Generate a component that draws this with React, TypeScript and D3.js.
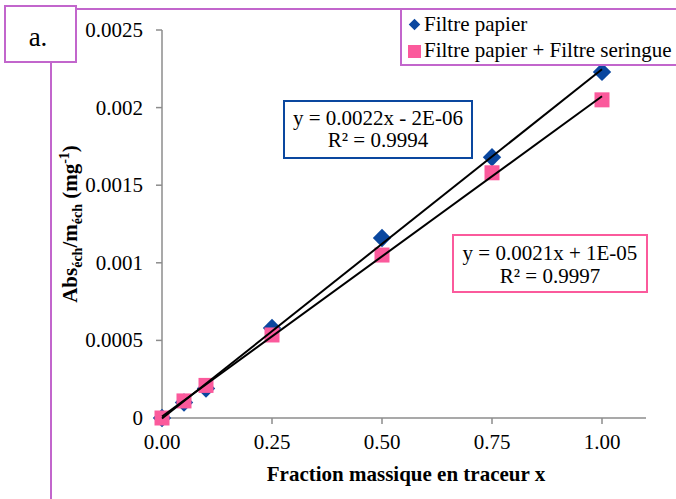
import React from "react";
import * as d3 from "d3";

const xValues = [0, 0.05, 0.1, 0.25, 0.5, 0.75, 1.0];
const papier = [0, 0.0001, 0.00019, 0.00058, 0.00116, 0.00168, 0.00223];
const papierSeringue = [0, 0.00011, 0.00021, 0.000535, 0.00105, 0.00158, 0.00205];
const xTicks = [0, 0.25, 0.5, 0.75, 1.0];
const yTicks = [0, 0.0005, 0.001, 0.0015, 0.002, 0.0025];
const yTickLabels = ["0", "0.0005", "0.001", "0.0015", "0.002", "0.0025"];
const seriesNames = ["Filtre papier", "Filtre papier + Filtre seringue"];
const eqBlue = ["y = 0.0022x - 2E-06", "R² = 0.9994"];
const eqPink = ["y = 0.0021x + 1E-05", "R² = 0.9997"];

const BLUE = "#0a479f";
const PINK = "#fb5a9c";
const PURPLE = "#c266cc";
const AXIS = "#8c8c8c";
const FONT = '"Liberation Serif", "Times New Roman", serif';

function linreg(xs: number[], ys: number[]) {
  const mx = d3.mean(xs)!;
  const my = d3.mean(ys)!;
  let sxy = 0, sxx = 0;
  xs.forEach((x, i) => {
    sxy += (x - mx) * (ys[i] - my);
    sxx += (x - mx) * (x - mx);
  });
  const slope = sxy / sxx;
  return { slope, intercept: my - slope * mx };
}

export default function App() {
  const x = d3.scaleLinear().domain([0, 1.1]).range([162, 646]);
  const y = d3.scaleLinear().domain([0, 0.0025]).range([418, 30]);
  const diamond = d3.symbol().type(d3.symbolDiamond2).size(215)();
  const diamondLeg = d3.symbol().type(d3.symbolDiamond2).size(85)();
  const fitB = linreg(xValues, papier);
  const fitP = linreg(xValues, papierSeringue);
  const line = d3.line<number[]>().x((d) => x(d[0])).y((d) => y(d[1]));
  const fitLine = (f: { slope: number; intercept: number }) =>
    line([[0, f.intercept], [1, f.slope + f.intercept]]);
  const tStyle: React.CSSProperties = { fontFamily: FONT };

  return (
    <svg width={676} height={499} style={{ position: "absolute", left: 0, top: 0, background: "#fff", fontFamily: FONT }}>
      <rect x={0} y={0} width={676} height={499} fill="#fff" />
      {/* frame decorations */}
      <line x1={76} x2={676} y1={9} y2={9} stroke={PURPLE} strokeWidth={2} />
      <line x1={51} x2={51} y1={62} y2={499} stroke={PURPLE} strokeWidth={2} />
      <rect x={5} y={6} width={71} height={56} fill="#fff" stroke={PURPLE} strokeWidth={2} />
      <text x={38} y={46} fontSize={27} textAnchor="middle" style={tStyle}>a.</text>

      {/* axes */}
      <line x1={x(0)} x2={x(0)} y1={y(0)} y2={y(0.0025)} stroke={AXIS} strokeWidth={1.5} />
      <line x1={x(0)} x2={x(1.1)} y1={y(0)} y2={y(0)} stroke={AXIS} strokeWidth={1.5} />
      {yTicks.map((t, i) => (
        <g key={"yt" + i}>
          <line x1={x(0) - 6} x2={x(0)} y1={y(t)} y2={y(t)} stroke={AXIS} strokeWidth={1.5} />
          <text x={143} y={y(t) + 7} fontSize={21} textAnchor="end" style={tStyle}>{yTickLabels[i]}</text>
        </g>
      ))}
      {xTicks.map((t, i) => (
        <g key={"xt" + i}>
          <line x1={x(t)} x2={x(t)} y1={y(0)} y2={y(0) + 6} stroke={AXIS} strokeWidth={1.5} />
          <text x={x(t)} y={449} fontSize={21} textAnchor="middle" style={tStyle}>{d3.format(".2f")(t)}</text>
        </g>
      ))}

      {/* axis titles */}
      <text x={406} y={481} fontSize={21} fontWeight="bold" textAnchor="middle" style={tStyle}>Fraction massique en traceur x</text>
      <text transform="translate(77,224) rotate(-90)" fontSize={21} fontWeight="bold" textAnchor="middle" style={tStyle}>
        Abs<tspan fontSize={14} dy={5}>éch</tspan>
        <tspan dy={-5}>/m</tspan>
        <tspan fontSize={14} dy={5}>éch</tspan>
        <tspan dy={-5}> (mg</tspan>
        <tspan fontSize={14} dy={-8}>-1</tspan>
        <tspan dy={8}>)</tspan>
      </text>

      {/* markers */}
      {xValues.map((xv, i) => (
        <path key={"b" + i} d={diamond!} transform={`translate(${x(xv)},${y(papier[i])})`} fill={BLUE} />
      ))}
      {xValues.map((xv, i) => (
        <rect key={"p" + i} x={x(xv) - 7.5} y={y(papierSeringue[i]) - 7.5} width={15} height={15} fill={PINK} />
      ))}

      {/* trend lines */}
      <path d={fitLine(fitB)!} stroke="#000" strokeWidth={2} fill="none" />
      <path d={fitLine(fitP)!} stroke="#000" strokeWidth={2} fill="none" />

      {/* equation boxes */}
      <rect x={284} y={101} width={188} height={57} fill="#fff" stroke={BLUE} strokeWidth={2} />
      <text x={378} y={125} fontSize={21} textAnchor="middle" style={tStyle}>{eqBlue[0]}</text>
      <text x={378} y={147} fontSize={21} textAnchor="middle" style={tStyle}>{eqBlue[1]}</text>
      <rect x={453} y={235} width={194} height={57} fill="#fff" stroke={PINK} strokeWidth={2} />
      <text x={550} y={260} fontSize={21} textAnchor="middle" style={tStyle}>{eqPink[0]}</text>
      <text x={550} y={283} fontSize={21} textAnchor="middle" style={tStyle}>{eqPink[1]}</text>

      {/* legend */}
      <rect x={401} y={9} width={290} height={56} fill="#fff" stroke={PURPLE} strokeWidth={2} />
      <path d={diamondLeg!} transform="translate(414.5,24.5)" fill={BLUE} />
      <rect x={408} y={45} width={13} height={13} fill={PINK} />
      <text x={424} y={31} fontSize={21} style={tStyle}>{seriesNames[0]}</text>
      <text x={424} y={57} fontSize={21} style={tStyle}>{seriesNames[1]}</text>
    </svg>
  );
}
